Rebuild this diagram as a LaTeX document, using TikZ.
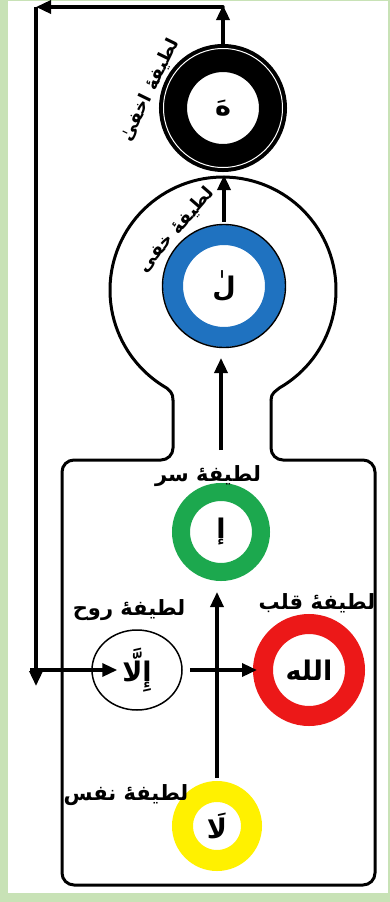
\documentclass[tikz,border=0pt]{standalone}
\usepackage{fontspec}
\newfontfamily\arabicfont[Script=Arabic]{DejaVu Sans}
\TeXXeTstate=1
\usetikzlibrary{arrows.meta,shapes.geometric}
\definecolor{framegreen}{RGB}{200,226,182}
\definecolor{ringblue}{RGB}{31,114,192}
\definecolor{ringgreen}{RGB}{28,168,78}
\definecolor{ringred}{RGB}{236,24,24}
\definecolor{ringyellow}{RGB}{255,241,0}
\newcommand{\artext}[1]{\arabicfont\bfseries\beginR #1\endR}
\begin{document}
\begin{tikzpicture}[x=1pt,y=-1pt,
  ring/.style={circle, inner sep=0pt, line width=#1},
  arr/.style={line width=3.4pt, -{Triangle[length=15pt,width=13pt]}},
  bodyline/.style={line width=3pt, line cap=round, line join=round},
  lbl/.style={font=\fontsize{21}{21}\selectfont, inner sep=0pt},
  rlbl/.style={font=\fontsize{18}{18}\selectfont, inner sep=0pt},
  letter/.style={font=\fontsize{27}{27}\selectfont}
]
\useasboundingbox (0,0) rectangle (390,902);
\fill[framegreen] (0,0) rectangle (390,902);
\fill[white] (8,1) rectangle (388,893);

% body outline
\draw[bodyline, rounded corners=12pt] (173,400) -- (173,460) -- (62,460) -- (62,885) -- (375,885) -- (375,460) -- (271,460) -- (271,400);
\draw[bodyline] (271,400) .. controls (271,393) and (276,391) .. (279.5,387.9)
  arc[start angle=60, end angle=-240, radius=113]
  .. controls (170,391) and (173,393) .. (173,400);

% rings
\node[ring=28pt, draw=black, minimum size=100pt] (akhfa) at (223,108) {};
\draw[white, line width=1pt] (akhfa.center) circle[radius=59.5];
\node[letter] at (akhfa.center) {\artext{هَ}};

\node[ring=20pt, draw=ringblue, minimum size=102pt] (khafi) at (224,286) {};
\draw[line width=1.4pt] (khafi.center) circle[radius=61.5];
\node[letter] at (khafi.center) {\artext{لٰ}};

\node[ring=18pt, draw=ringgreen, minimum size=80pt] (sirr) at (221,532) {};
\node[letter] at (sirr.center) {\artext{إ}};

\node[ring=20pt, draw=ringred, minimum size=92pt] (qalb) at (309,670) {};
\node[letter] at (qalb.center) {\artext{الله}};

\node[ellipse, draw, line width=1.5pt, minimum width=90pt, minimum height=80pt, inner sep=0pt] (ruh) at (137,670) {};
\node[letter] at (ruh.center) {\artext{إِلَّا}};

\node[ring=21pt, draw=ringyellow, minimum size=69pt] (nafs) at (217,826) {};
\node[letter] at (nafs.center) {\artext{لَا}};

% labels
\node[rlbl, rotate=64] (lakhfa) at (150,90) {\artext{لطیفهٔ اخفیٰ}};
\node[rlbl, rotate=49] (lkhafi) at (176,230) {\artext{لطیفهٔ خفی}};
\node[lbl] (lsirr) at (208,476) {\artext{لطیفهٔ سر}};
\node[lbl] (lruh) at (129,610) {\artext{لطیفهٔ روح}};
\node[lbl] (lqalb) at (317,603) {\artext{لطیفهٔ قلب}};
\node[lbl] (lnafs) at (126,795) {\artext{لطیفهٔ نفس}};

% connectors
\coordinate (tr) at (223,7);
\coordinate (tl) at (36,7);
\coordinate (bl) at (36,686);
\coordinate (rs) at (30,670);
\draw[arr, shorten <=3pt, shorten >=11pt] (nafs.north) -- (nafs.north |- sirr.south);
\draw[arr, shorten <=33pt, shorten >=11pt] (sirr.north) -- (sirr.north |- khafi.south);
\draw[arr, shorten <=3pt, shorten >=3pt] (khafi.north) -- (khafi.north |- akhfa.south);
\draw[arr, shorten >=-2pt] (akhfa.north) -- (tr);
\draw[arr, line cap=round] (tr) -- (tl);
\draw[arr] (tl) -- (bl);
\draw[arr, shorten >=-26pt] (rs) -- (ruh.west);
\draw[arr, shorten <=7pt, shorten >=-4pt] (ruh.east) -- (qalb.west);
\end{tikzpicture}
\end{document}
